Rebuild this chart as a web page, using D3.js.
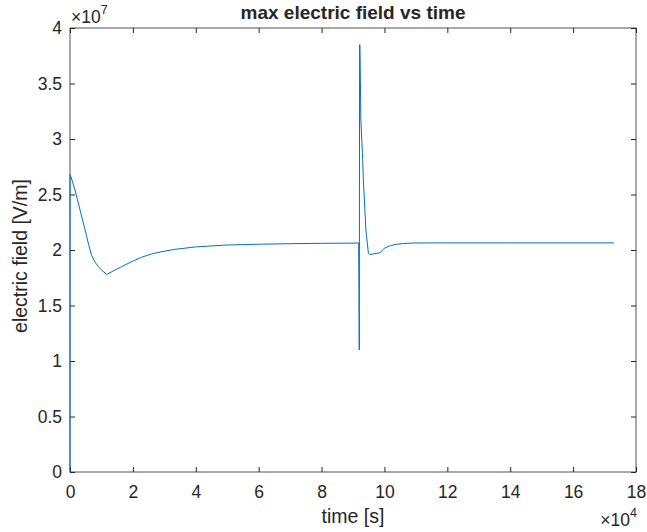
<!DOCTYPE html>
<html>
<head>
<meta charset="utf-8">
<script src="https://cdn.jsdelivr.net/npm/d3@7"></script>
<style>
  body { margin: 0; background: #fff; }
  text { font-family: "Liberation Sans", Arial, sans-serif; fill: #262626; }
</style>
</head>
<body>
<div id="chart"></div>
<script>
// time [s] (x 1e4) and max field [V/m] (x 1e7)
const timeVals = [0, 0, 0.03, 0.16, 0.32, 0.48, 0.6, 0.69, 0.8, 0.9, 1.0, 1.17, 1.4, 1.64, 2.0, 2.28, 2.6, 2.92, 3.34, 4, 5, 6, 7, 8, 9, 9.18,
  9.2, 9.21, 9.22, 9.25, 9.3, 9.33, 9.41, 9.49, 9.54, 9.86, 9.94, 10.02, 10.2, 10.39, 10.6, 10.91, 12, 14, 16, 17.3];
const fieldVals = [0, 2.68, 2.66, 2.54, 2.36, 2.18, 2.04, 1.95, 1.89, 1.85, 1.82, 1.78, 1.815, 1.85, 1.9, 1.935, 1.965, 1.985, 2.006, 2.028, 2.045, 2.052, 2.057, 2.06, 2.062, 2.063,
  1.10, 3.85, 3.85, 3.17, 2.87, 2.63, 2.18, 1.97, 1.96, 1.975, 2.0, 2.02, 2.04, 2.052, 2.058, 2.063, 2.064, 2.064, 2.064, 2.064];
const xTicks = [0, 2, 4, 6, 8, 10, 12, 14, 16, 18];
const yTicks = [0, 0.5, 1, 1.5, 2, 2.5, 3, 3.5, 4];

const W = 647, H = 532;
const margin = {top: 28, right: 11, bottom: 60, left: 70};
const w = W - margin.left - margin.right;
const h = H - margin.top - margin.bottom;

const svg = d3.select("#chart").append("svg")
  .attr("width", W).attr("height", H);
const g = svg.append("g").attr("transform", `translate(${margin.left},${margin.top})`);

const x = d3.scaleLinear().domain([0, 18]).range([0, w]);
const y = d3.scaleLinear().domain([0, 4]).range([h, 0]);

const axisColor = "#262626";
const tickLen = 5;

// axes: ticks point inward, box on all sides
function styleAxis(sel) {
  sel.select(".domain").remove();
  sel.selectAll(".tick line").attr("stroke", axisColor);
  sel.selectAll(".tick text").style("font-size", "17.5px").attr("fill", axisColor);
}
g.append("g").attr("transform", `translate(0,${h})`)
  .call(d3.axisBottom(x).tickValues(xTicks).tickFormat(d3.format("d")).tickSizeInner(-tickLen).tickPadding(14))
  .call(styleAxis);
g.append("g")
  .call(d3.axisTop(x).tickValues(xTicks).tickFormat("").tickSizeInner(-tickLen))
  .call(styleAxis);
g.append("g")
  .call(d3.axisLeft(y).tickValues(yTicks).tickFormat(d3.format("")).tickSizeInner(-tickLen).tickPadding(8))
  .call(styleAxis);
g.append("g").attr("transform", `translate(${w},0)`)
  .call(d3.axisRight(y).tickValues(yTicks).tickFormat("").tickSizeInner(-tickLen))
  .call(styleAxis);

g.append("rect").attr("width", w).attr("height", h)
  .attr("fill", "none").attr("stroke", axisColor).attr("stroke-width", 0.8);

// data line
const pts = timeVals.map((t, i) => ({t, v: fieldVals[i]}));
g.append("path").datum(pts)
  .attr("fill", "none").attr("stroke", "#0072BD").attr("stroke-width", 1)
  .attr("d", d3.line().x(d => x(d.t)).y(d => y(d.v)));

// title and labels
svg.append("text").attr("x", margin.left + w / 2).attr("y", 19)
  .attr("text-anchor", "middle").style("font-size", "19px").style("font-weight", "bold")
  .attr("fill", "#000").text("max electric field vs time");
svg.append("text").attr("x", margin.left + w / 2).attr("y", 523)
  .attr("text-anchor", "middle").style("font-size", "19.5px").text("time [s]");
svg.append("text").attr("transform", `translate(27,256) rotate(-90)`)
  .attr("text-anchor", "middle").style("font-size", "19.5px").text("electric field [V/m]");

// exponent labels
const e7 = svg.append("text").attr("x", margin.left + 1).attr("y", 23).style("font-size", "17.5px");
e7.append("tspan").text("\u00d710");
e7.append("tspan").attr("dy", -9).style("font-size", "12.5px").text("7");
const e4 = svg.append("text").attr("x", W - margin.right + 1).attr("y", 526)
  .attr("text-anchor", "end").style("font-size", "17.5px");
e4.append("tspan").text("\u00d710");
e4.append("tspan").attr("dy", -9).style("font-size", "12.5px").text("4");
</script>
</body>
</html>
